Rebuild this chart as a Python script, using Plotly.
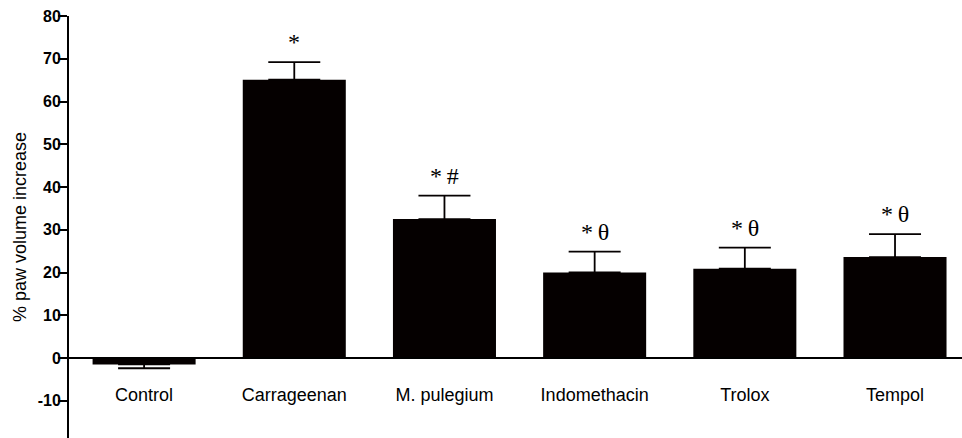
import plotly.graph_objects as go

categories = ["Control", "Carrageenan", "M. pulegium", "Indomethacin", "Trolox", "Tempol"]
means = [-1.5, 65.1, 32.5, 20.0, 20.9, 23.6]
sem = [0.9, 4.1, 5.5, 4.9, 4.9, 5.4]
signif = ["", "*", "*\u2009#", "*\u2009θ", "*\u2009θ", "*\u2009θ"]
y_ticks = [-10, 0, 10, 20, 30, 40, 50, 60, 70, 80]
y_tick_text = ["-10", "0", "10", "20", "30", "40", "50", "60", "70", "80"]

err_plus = [s if m >= 0 else 0 for m, s in zip(means, sem)]
err_minus = [s if m < 0 else 0 for m, s in zip(means, sem)]

fig = go.Figure()
fig.add_trace(go.Bar(
    x=list(range(len(categories))),
    y=means,
    marker=dict(color="#050000", line=dict(width=0)),
    error_y=dict(type="data", symmetric=False, array=err_plus, arrayminus=err_minus,
                 color="#050000", thickness=1.8, width=26),
    showlegend=False,
))

for i, (m, s, t) in enumerate(zip(means, sem, signif)):
    if t:
        fig.add_annotation(x=i, y=m + s, xref="x", yref="y", text=t, showarrow=False,
                           yanchor="bottom", yshift=5,
                           font=dict(family="Liberation Serif", size=24, color="black"))

Y_MIN, Y_MAX = -18.71, 80
zero_pos = (0 - Y_MIN) / (Y_MAX - Y_MIN)

fig.update_layout(
    width=962, height=438,
    margin=dict(l=69, r=0, t=16, b=0),
    plot_bgcolor="white", paper_bgcolor="white",
    bargap=0.314,
    xaxis=dict(
        range=[-0.5, 5.446],
        tickmode="array", tickvals=list(range(len(categories))), ticktext=categories,
        tickfont=dict(family="Liberation Sans", size=18, color="black"),
        ticks="outside", ticklen=20, tickcolor="rgba(0,0,0,0)",
        showline=True, linecolor="black", linewidth=1.8,
        showgrid=False, zeroline=False,
        anchor="free", position=zero_pos,
    ),
    yaxis=dict(
        range=[Y_MIN, Y_MAX],
        tickmode="array", tickvals=y_ticks, ticktext=y_tick_text,
        tickfont=dict(family="Liberation Sans", size=16, color="black", weight="bold"),
        ticks="outside", ticklen=9, tickwidth=1.8, tickcolor="black",
        ticklabelstandoff=-6,
        showline=True, linecolor="black", linewidth=2,
        showgrid=False, zeroline=False,
        title=dict(text="% paw volume increase",
                   font=dict(family="Liberation Sans", size=18, color="black"),
                   standoff=6),
    ),
)

fig.write_html("out.html")
